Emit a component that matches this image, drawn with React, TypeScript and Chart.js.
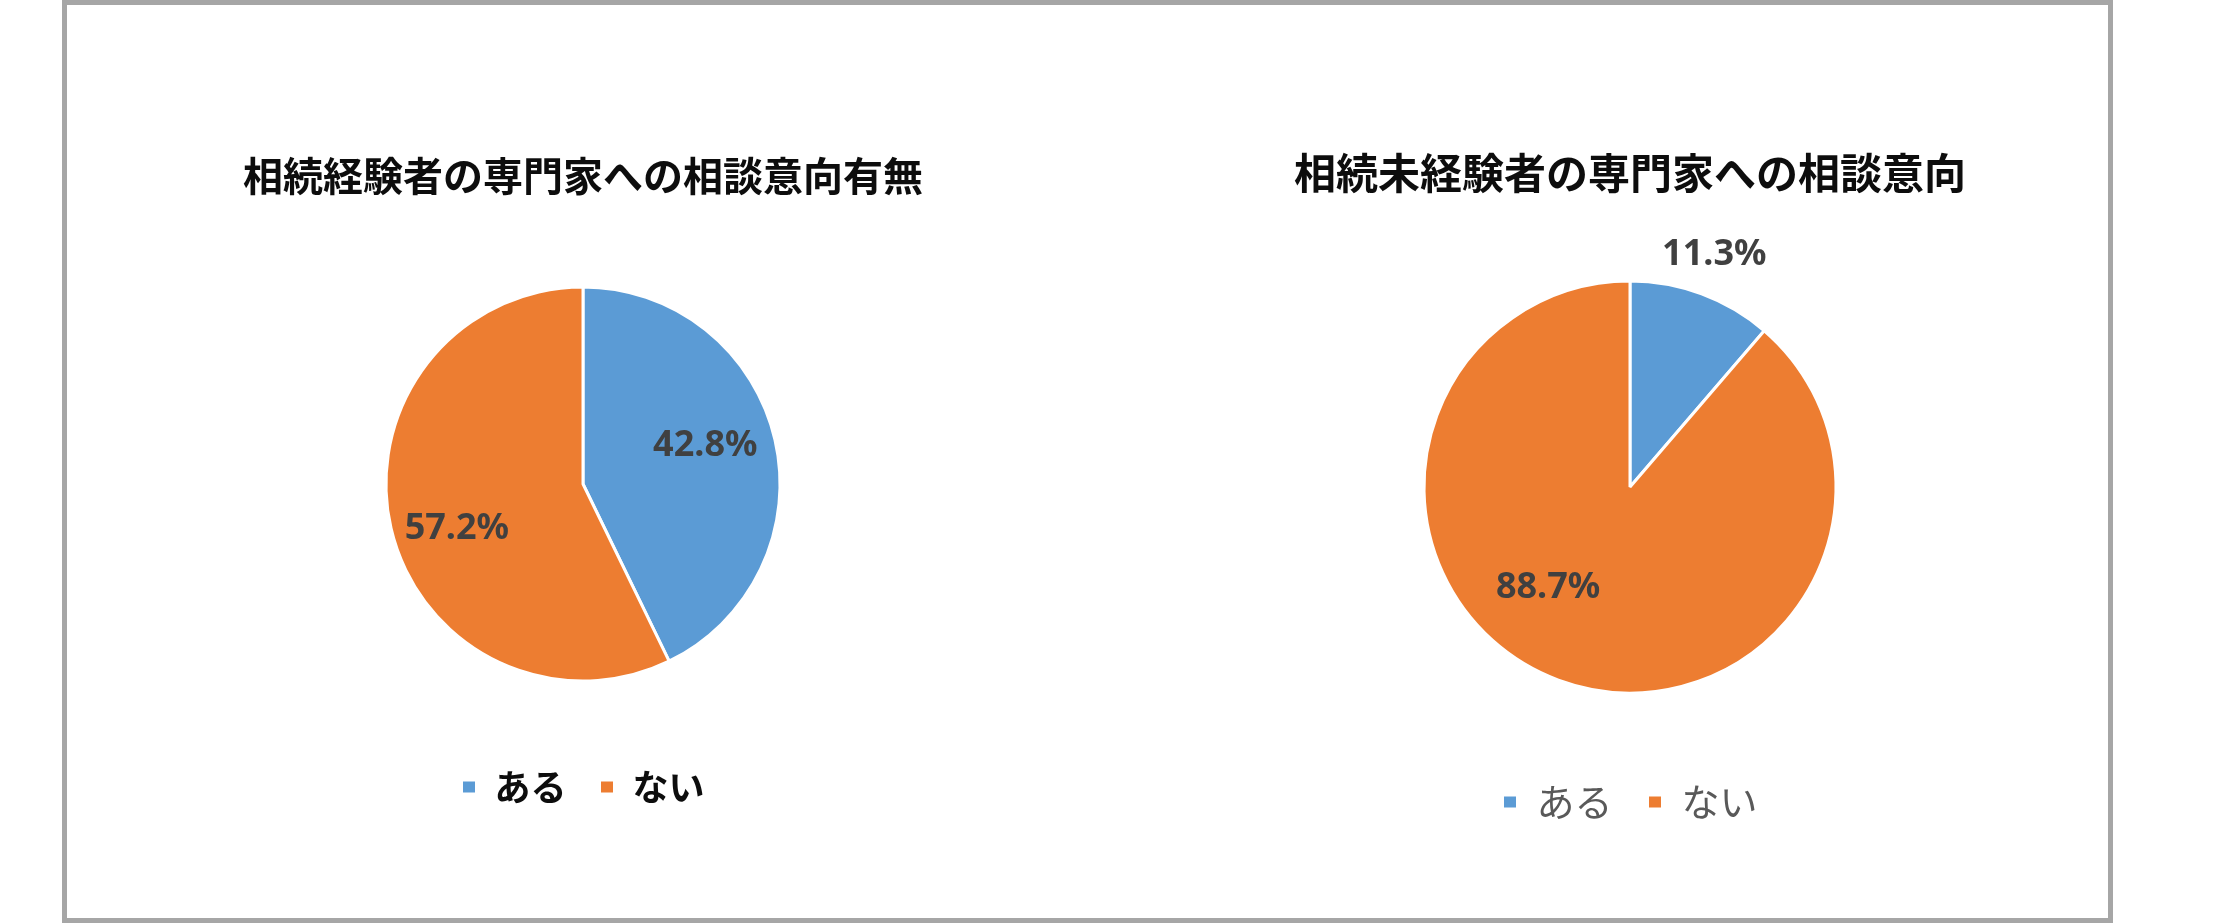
import { useEffect, useRef } from "react";
import { Chart, registerables } from "chart.js";

Chart.register(...registerables);

const categories = ["ある", "ない"];
const experiencedValues = [42.8, 57.2];
const inexperiencedValues = [11.3, 88.7];
const experiencedTitle = "相続経験者の専門家への相談意向有無";
const inexperiencedTitle = "相続未経験者の専門家への相談意向";

const COLORS = ["#5B9BD5", "#ED7D31"];

// where each percent label sits: fraction of radius, and angle nudge (deg)
interface LabelPlace { dist: number; shift: number; }

const percentLabels = {
  id: "percentLabels",
  afterDatasetsDraw(chart: Chart, _args: any, opts: any) {
    const { ctx } = chart;
    const meta = chart.getDatasetMeta(0);
    const data = chart.data.datasets[0].data as number[];
    const places: LabelPlace[] = opts.places || [];
    ctx.save();
    ctx.font = opts.font;
    ctx.fillStyle = opts.color;
    ctx.textAlign = "center";
    ctx.textBaseline = "middle";
    meta.data.forEach((arc: any, i: number) => {
      const { x, y, startAngle, endAngle, outerRadius } = arc.getProps(
        ["x", "y", "startAngle", "endAngle", "outerRadius"], true
      );
      const p = places[i] || { dist: 0.65, shift: 0 };
      const a = (startAngle + endAngle) / 2 + (p.shift * Math.PI) / 180;
      const r = outerRadius * p.dist;
      ctx.fillText(data[i].toFixed(1) + "%", x + Math.cos(a) * r, y + Math.sin(a) * r);
    });
    ctx.restore();
  },
};

interface PieProps {
  title: string;
  values: number[];
  left: number;
  top: number;
  width: number;
  height: number;
  radius: number;
  titleSize: number;
  titlePad: { top: number; bottom: number };
  legendSize: number;
  legendPad: number;
  legendColor: string;
  legendWeight: string;
  places: LabelPlace[];
}

function PieChart(p: PieProps) {
  const canvasRef = useRef<HTMLCanvasElement>(null);
  const chartRef = useRef<Chart | null>(null);

  useEffect(() => {
    if (!canvasRef.current) return;
    chartRef.current?.destroy();

    chartRef.current = new Chart(canvasRef.current, {
      type: "pie",
      data: {
        labels: categories,
        datasets: [
          {
            data: p.values,
            backgroundColor: COLORS,
            borderColor: "#ffffff",
            borderWidth: 3,
            radius: p.radius,
          },
        ],
      },
      options: {
        animation: false,
        responsive: true,
        maintainAspectRatio: false,
        events: [],
        plugins: {
          title: {
            display: true,
            text: p.title,
            color: "#0d0d0d",
            font: { family: "'Noto Sans CJK JP', sans-serif", size: p.titleSize, weight: "bold", lineHeight: 1.2 },
            padding: p.titlePad,
          },
          legend: {
            position: "bottom",
            labels: {
              boxWidth: 15,
              boxHeight: 14,
              padding: p.legendPad,
              color: p.legendColor,
              font: { family: "'Noto Sans CJK JP', sans-serif", size: p.legendSize, weight: p.legendWeight as any },
            },
          },
          tooltip: { enabled: false },
          percentLabels: {
            font: "bold 36px 'Noto Sans'",
            color: "#404040",
            places: p.places,
          },
        } as any,
      },
      plugins: [percentLabels],
    });

    return () => { chartRef.current?.destroy(); };
  }, [p]);

  return (
    <div style={{ position: "absolute", left: p.left, top: p.top, width: p.width, height: p.height }}>
      <canvas ref={canvasRef} />
    </div>
  );
}

const leftChart: PieProps = {
  title: experiencedTitle,
  values: experiencedValues,
  left: 203, top: 120, width: 760, height: 695,
  radius: 197,
  titleSize: 40,
  titlePad: { top: 31.5, bottom: 32.5 },
  legendSize: 36, legendPad: 33, legendColor: "#0d0d0d", legendWeight: "bold",
  places: [{ dist: 0.65, shift: -4.3 }, { dist: 0.68, shift: -6.7 }],
};

const rightChart: PieProps = {
  title: inexperiencedTitle,
  values: inexperiencedValues,
  left: 1250, top: 120, width: 760, height: 711,
  radius: 206,
  titleSize: 42,
  titlePad: { top: 28.3, bottom: 27.3 },
  legendSize: 38, legendPad: 35, legendColor: "#595959", legendWeight: "normal",
  places: [{ dist: 1.2, shift: -0.4 }, { dist: 0.63, shift: 18.8 }],
};

export default function App() {
  return (
    <div style={{ position: "absolute", left: 0, top: 0, width: 2240, height: 923, background: "#ffffff" }}>
      <div
        style={{
          position: "absolute", left: 62, top: 0, width: 2051, height: 923,
          border: "5px solid #A6A6A6", boxSizing: "border-box",
        }}
      />
      <PieChart {...leftChart} />
      <PieChart {...rightChart} />
    </div>
  );
}
